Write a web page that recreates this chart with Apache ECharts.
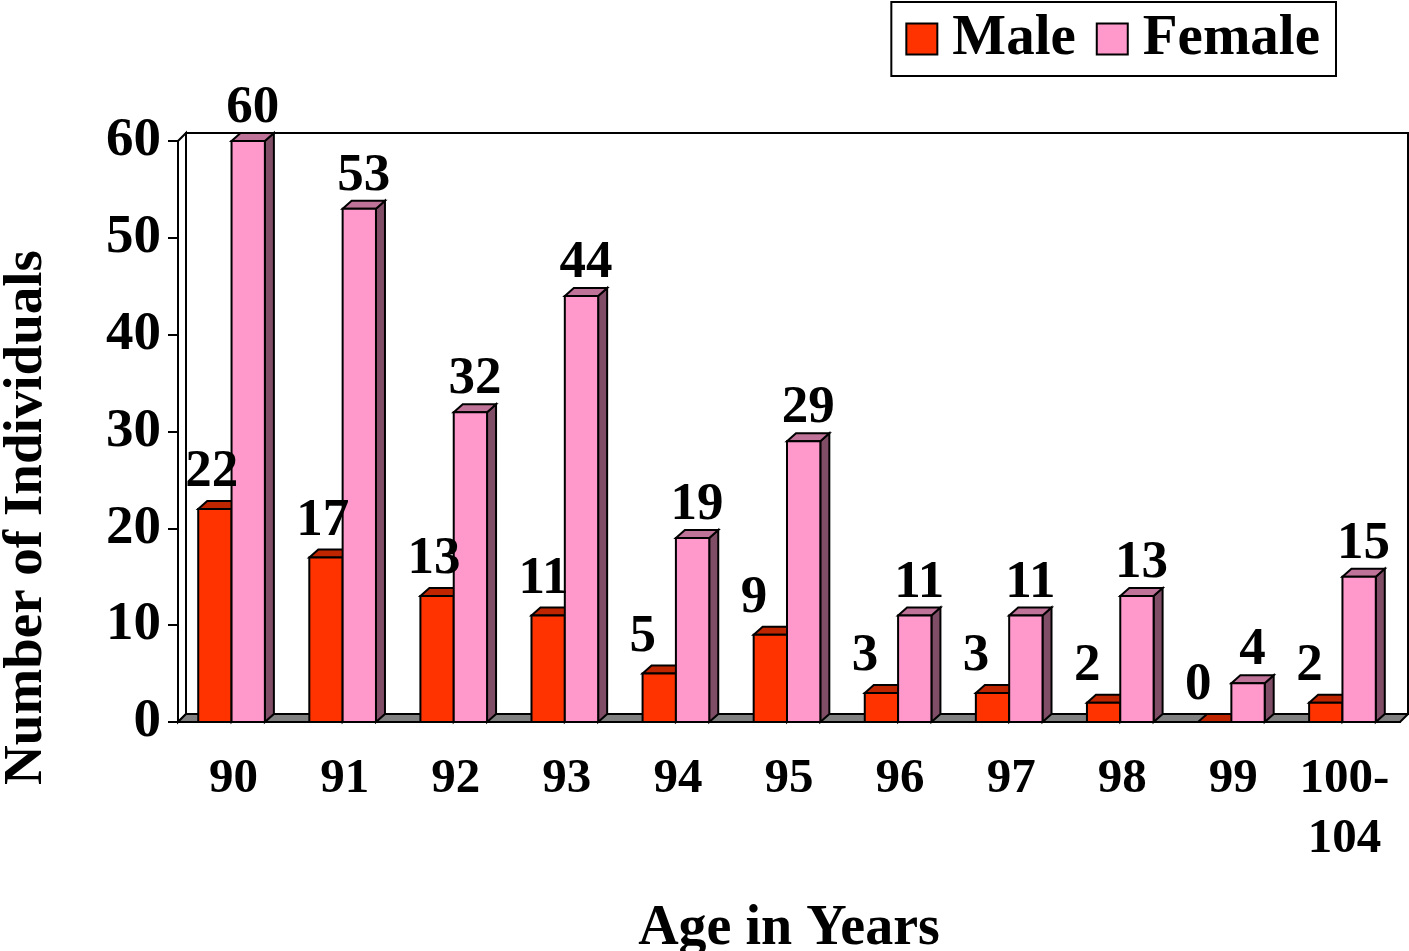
<html>
<head>
    <meta charset="UTF-8">
    <title>Age in Years</title>
    <script src="https://cdn.jsdelivr.net/npm/echarts@6/dist/echarts.min.js"></script>
    <style>
        body {
            padding: 0;
            margin: 0;
            overflow: hidden;
            background: #fff;
        }
        #chart {
            width: 1409px;
            height: 951px;
        }
    </style>
</head>
<body>
<div id="chart"></div>

<script>
    const ages = ['90', '91', '92', '93', '94', '95', '96', '97', '98', '99', '100-\n104'];
    const male = [22, 17, 13, 11, 5, 9, 3, 3, 2, 0, 2];
    const female = [60, 53, 32, 44, 19, 29, 11, 11, 13, 4, 15];

    const FONT = '"Liberation Serif", "Times New Roman", serif';
    const DX = 8, DY = -8;   // depth of walls
    const BDX = 9;           // depth of bars

    const ec = echarts.init(document.getElementById('chart'));

    function barItem(isMale, front, topC, sideC) {
        return function (params, api) {
            const i = api.value(0);
            const base = api.coord([i, 0]);
            const top = api.coord([i, api.value(1)]);
            const w = api.size([1, 0])[0] * 0.3;
            const x0 = isMale ? base[0] - w - 2 : base[0] - 2;
            const x1 = x0 + w;
            const y0 = base[1], y1 = top[1];
            const line = {stroke: '#000', lineWidth: 2, lineJoin: 'miter'};
            return {
                type: 'group',
                children: [
                    {
                        type: 'polygon',
                        shape: {points: [[x1, y1], [x1, y0], [x1 + BDX, y0 + DY], [x1 + BDX, y1 + DY]]},
                        style: Object.assign({fill: sideC}, line)
                    },
                    {
                        type: 'polygon',
                        shape: {points: [[x0, y1], [x1, y1], [x1 + BDX, y1 + DY], [x0 + BDX, y1 + DY]]},
                        style: Object.assign({fill: topC}, line)
                    },
                    {
                        type: 'rect',
                        shape: {x: x0, y: y1, width: w, height: y0 - y1},
                        style: Object.assign({fill: front}, line)
                    }
                ]
            };
        };
    }

    function labelItem(params, api) {
        const i = api.value(0);
        const w = api.size([1, 0])[0] * 0.3;
        const m = api.coord([i, api.value(1)]);
        const f = api.coord([i, api.value(2)]);
        const font = 'bold 53px ' + FONT;
        return {
            type: 'group',
            children: [
                {
                    type: 'text',
                    style: {
                        text: String(api.value(1)), x: m[0] - w - 15, y: m[1] - 10,
                        align: 'left', verticalAlign: 'bottom', font: font, fill: '#000'
                    }
                },
                {
                    type: 'text',
                    style: {
                        text: String(api.value(2)), x: f[0] - 2 + w / 2 + BDX / 2, y: f[1] - 6,
                        align: 'center', verticalAlign: 'bottom', font: font, fill: '#000'
                    }
                }
            ]
        };
    }

    // back wall, left wall and grey floor
    function frameItem(params) {
        const c = params.coordSys;
        const l = c.x, t = c.y, r = c.x + c.width, b = c.y + c.height;
        const line = {stroke: '#000', lineWidth: 2};
        return {
            type: 'group',
            children: [
                {
                    type: 'rect',
                    shape: {x: l + DX, y: t + DY, width: c.width, height: c.height},
                    style: Object.assign({fill: '#fff'}, line)
                },
                {
                    type: 'polygon',
                    shape: {points: [[l, b], [l, t], [l + DX, t + DY], [l + DX, b + DY]]},
                    style: Object.assign({fill: '#fff'}, line)
                },
                {
                    type: 'polygon',
                    shape: {points: [[l, b], [r, b], [r + DX, b + DY], [l + DX, b + DY]]},
                    style: Object.assign({fill: '#808080'}, line)
                }
            ]
        };
    }

    const option = {
        animation: false,
        backgroundColor: '#fff',
        textStyle: {fontFamily: FONT},
        grid: {left: 178, right: 9, top: 141, bottom: 229, containLabel: false, outerBoundsMode: 'none'},
        legend: {
            right: 73,
            top: 2,
            orient: 'horizontal',
            padding: [8, 16, 8, 14],
            borderColor: '#000',
            borderWidth: 2,
            itemWidth: 31,
            itemHeight: 31,
            itemGap: 20,
            icon: 'rect',
            textStyle: {
                fontFamily: FONT, fontWeight: 'bold', fontSize: 57, color: '#000',
                lineHeight: 58, padding: [0, 0, 0, 10]
            },
            data: [
                {name: 'Male', itemStyle: {color: '#ff3300', borderColor: '#000', borderWidth: 2}},
                {name: 'Female', itemStyle: {color: '#ff99cc', borderColor: '#000', borderWidth: 2}}
            ]
        },
        xAxis: {
            type: 'category',
            data: ages,
            name: 'Age in Years',
            nameLocation: 'middle',
            nameGap: 180,
            nameTextStyle: {fontFamily: FONT, fontWeight: 'bold', fontSize: 56, color: '#000'},
            axisLine: {lineStyle: {color: '#000', width: 2}},
            axisTick: {length: 11, lineStyle: {color: '#000', width: 2}},
            axisLabel: {
                fontFamily: FONT, fontWeight: 'bold', fontSize: 49, color: '#000',
                lineHeight: 60, margin: 27, interval: 0
            },
            splitLine: {show: false}
        },
        yAxis: {
            type: 'value',
            min: 0,
            max: 60,
            interval: 10,
            name: 'Number of Individuals',
            nameLocation: 'middle',
            nameGap: 124,
            nameTextStyle: {
                fontFamily: FONT, fontWeight: 'bold', fontSize: 55, color: '#000',
                padding: [0, 172, 0, 0]
            },
            axisLine: {show: true, lineStyle: {color: '#000', width: 2}},
            axisTick: {show: true, length: 10, lineStyle: {color: '#000', width: 2}},
            axisLabel: {fontFamily: FONT, fontWeight: 'bold', fontSize: 55, color: '#000', margin: 17},
            splitLine: {show: false}
        },
        series: [
            {
                name: 'frame',
                type: 'custom',
                z: 1,
                silent: true,
                renderItem: frameItem,
                data: [[0, 0]]
            },
            {
                name: 'Male',
                type: 'custom',
                z: 2,
                itemStyle: {color: '#ff3300'},
                renderItem: barItem(true, '#ff3300', '#bf2600', '#802000'),
                encode: {x: 0, y: 1},
                data: male.map((v, i) => [i, v])
            },
            {
                name: 'Female',
                type: 'custom',
                z: 3,
                itemStyle: {color: '#ff99cc'},
                renderItem: barItem(false, '#ff99cc', '#bf7399', '#804d66'),
                encode: {x: 0, y: 1},
                data: female.map((v, i) => [i, v])
            },
            {
                name: 'labels',
                type: 'custom',
                z: 4,
                silent: true,
                renderItem: labelItem,
                encode: {x: 0, y: [1, 2]},
                data: male.map((v, i) => [i, v, female[i]])
            }
        ]
    };
    ec.setOption(option);
</script>
</body>
</html>
